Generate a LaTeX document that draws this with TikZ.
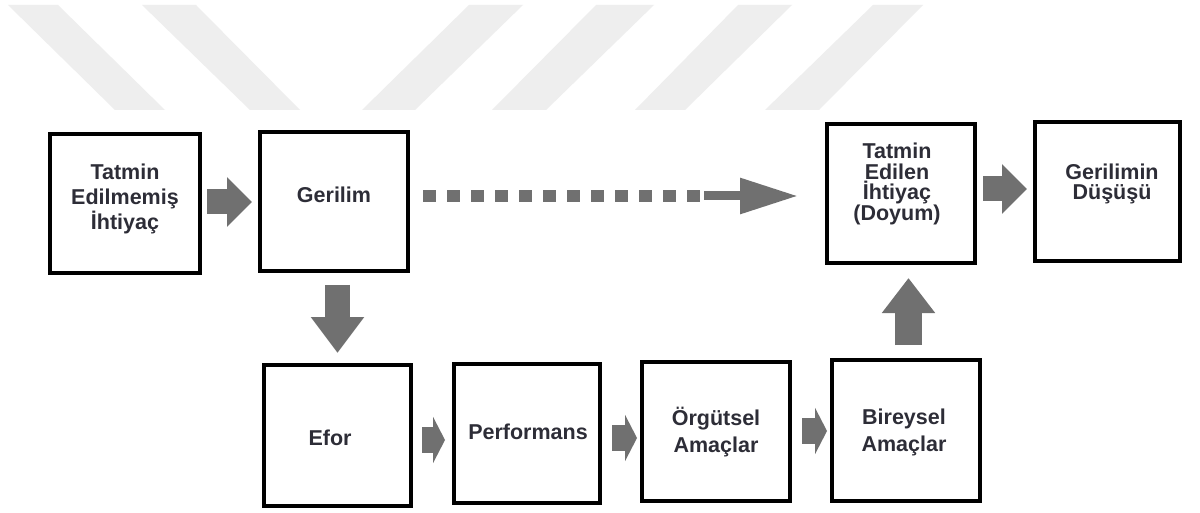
\documentclass[tikz,border=0pt]{standalone}
\usepackage{fontspec}
\setmainfont{Liberation Sans}
\usetikzlibrary{arrows.meta}
\definecolor{arrowgray}{RGB}{112,112,112}
\definecolor{txtcol}{RGB}{45,45,55}
\definecolor{stripe}{RGB}{238,238,238}
\begin{document}
\begin{tikzpicture}[x=1pt,y=-1pt,
  box/.style={draw=black,line width=4pt,fill=white,inner sep=0pt},
  txt/.style={text=txtcol,align=center,inner sep=0pt,font=\fontsize{21.5}{25}\selectfont\bfseries},
  txtb/.style={txt,font=\fontsize{21.5}{20.6}\selectfont\bfseries},
  txtc/.style={txt,font=\fontsize{21.5}{27}\selectfont\bfseries},
  bigarrow/.style={draw=arrowgray,line width=25pt,-{Triangle[length=25pt,width=48pt]}},
  vertarrow/.style={draw=arrowgray,line width=25pt,-{Triangle[length=36pt,width=51pt]}},
  smallarrow/.style={draw=arrowgray,line width=26pt,-{Triangle[length=12pt,width=46pt]}},
  dotline/.style={draw=arrowgray,line width=12pt,dash pattern=on 13pt off 11pt},
  longhead/.style={draw=arrowgray,line width=9pt,-{Triangle[length=58pt,width=34pt]}}
]
\useasboundingbox (0,0) rectangle (1200,513);
\fill[white] (0,0) rectangle (1200,513);
% watermark stripes
\fill[stripe] (8,5) -- (58,5) -- (165,110) -- (115,110) -- cycle;
\fill[stripe] (142,5) -- (196,5) -- (300,110) -- (250,110) -- cycle;
\fill[stripe] (469,5) -- (523,5) -- (415,110) -- (362,110) -- cycle;
\fill[stripe] (596,5) -- (654,5) -- (546,110) -- (492,110) -- cycle;
\fill[stripe] (738,5) -- (792,5) -- (685,110) -- (635,110) -- cycle;
\fill[stripe] (873,5) -- (923,5) -- (819,110) -- (765,110) -- cycle;

% boxes
\node[box,minimum width=150pt,minimum height=139pt] (b1) at (125,203.5) {};
\node[box,minimum width=148pt,minimum height=139pt] (b2) at (334,201.5) {};
\node[box,minimum width=148pt,minimum height=139pt] (b3) at (901,193.5) {};
\node[box,minimum width=145pt,minimum height=139pt] (b4) at (1107.5,191.5) {};
\node[box,minimum width=147pt,minimum height=141pt] (b5) at (337.5,435.5) {};
\node[box,minimum width=146pt,minimum height=139pt] (b6) at (527,433.5) {};
\node[box,minimum width=148pt,minimum height=139pt] (b7) at (716,431.5) {};
\node[box,minimum width=148pt,minimum height=141pt] (b8) at (906,430.5) {};

% texts
\node[txt] (t1) at (125,199) {Tatmin\\Edilmemiş\\İhtiyaç};
\node[txt] (t2) at (334,195) {Gerilim};
\node[txtb] (t3) at (897,184) {Tatmin\\Edilen\\İhtiyaç\\(Doyum)};
\node[txtb] (t4) at (1112,184) {Gerilimin\\Düşüşü};
\node[txt] (t5) at (330,438) {Efor};
\node[txt] (t6) at (528,432) {Performans};
\node[txtc] (t7) at (716,432) {Örgütsel\\Amaçlar};
\node[txtc] (t8) at (904,432) {Bireysel\\Amaçlar};

% arrows
\draw[bigarrow,shorten <=5pt,shorten >=6pt] (b1.east |- 0,202) -- (b2.west |- 0,202);
\coordinate (d1) at (701,196);
\coordinate (d2) at (704,196);
\draw[dotline,shorten <=13pt] (b2.east |- 0,196) -- (d1);
\draw[longhead,shorten >=27pt] (d2) -- (b3.west |- 0,196);
\draw[bigarrow,shorten <=6pt,shorten >=6pt] (b3.east |- 0,189) -- (b4.west |- 0,189);
\draw[vertarrow,shorten <=12pt,shorten >=10pt] (b5.north |- b2.south) -- (b5.north);
\draw[smallarrow,shorten <=9pt,shorten >=7pt] (b5.east |- 0,440) -- (b6.west |- 0,440);
\draw[smallarrow,shorten <=10pt,shorten >=3pt] (b6.east |- 0,438) -- (b7.west |- 0,438);
\draw[smallarrow,shorten <=10pt,shorten >=3pt] (b7.east |- 0,431) -- (b8.west |- 0,431);
\draw[vertarrow,line width=27pt,-{Triangle[length=35pt,width=51pt]},shorten <=13pt,shorten >=13pt] (b8.north -| 908.5,0) -- (b3.south -| 908.5,0);
\end{tikzpicture}
\end{document}
